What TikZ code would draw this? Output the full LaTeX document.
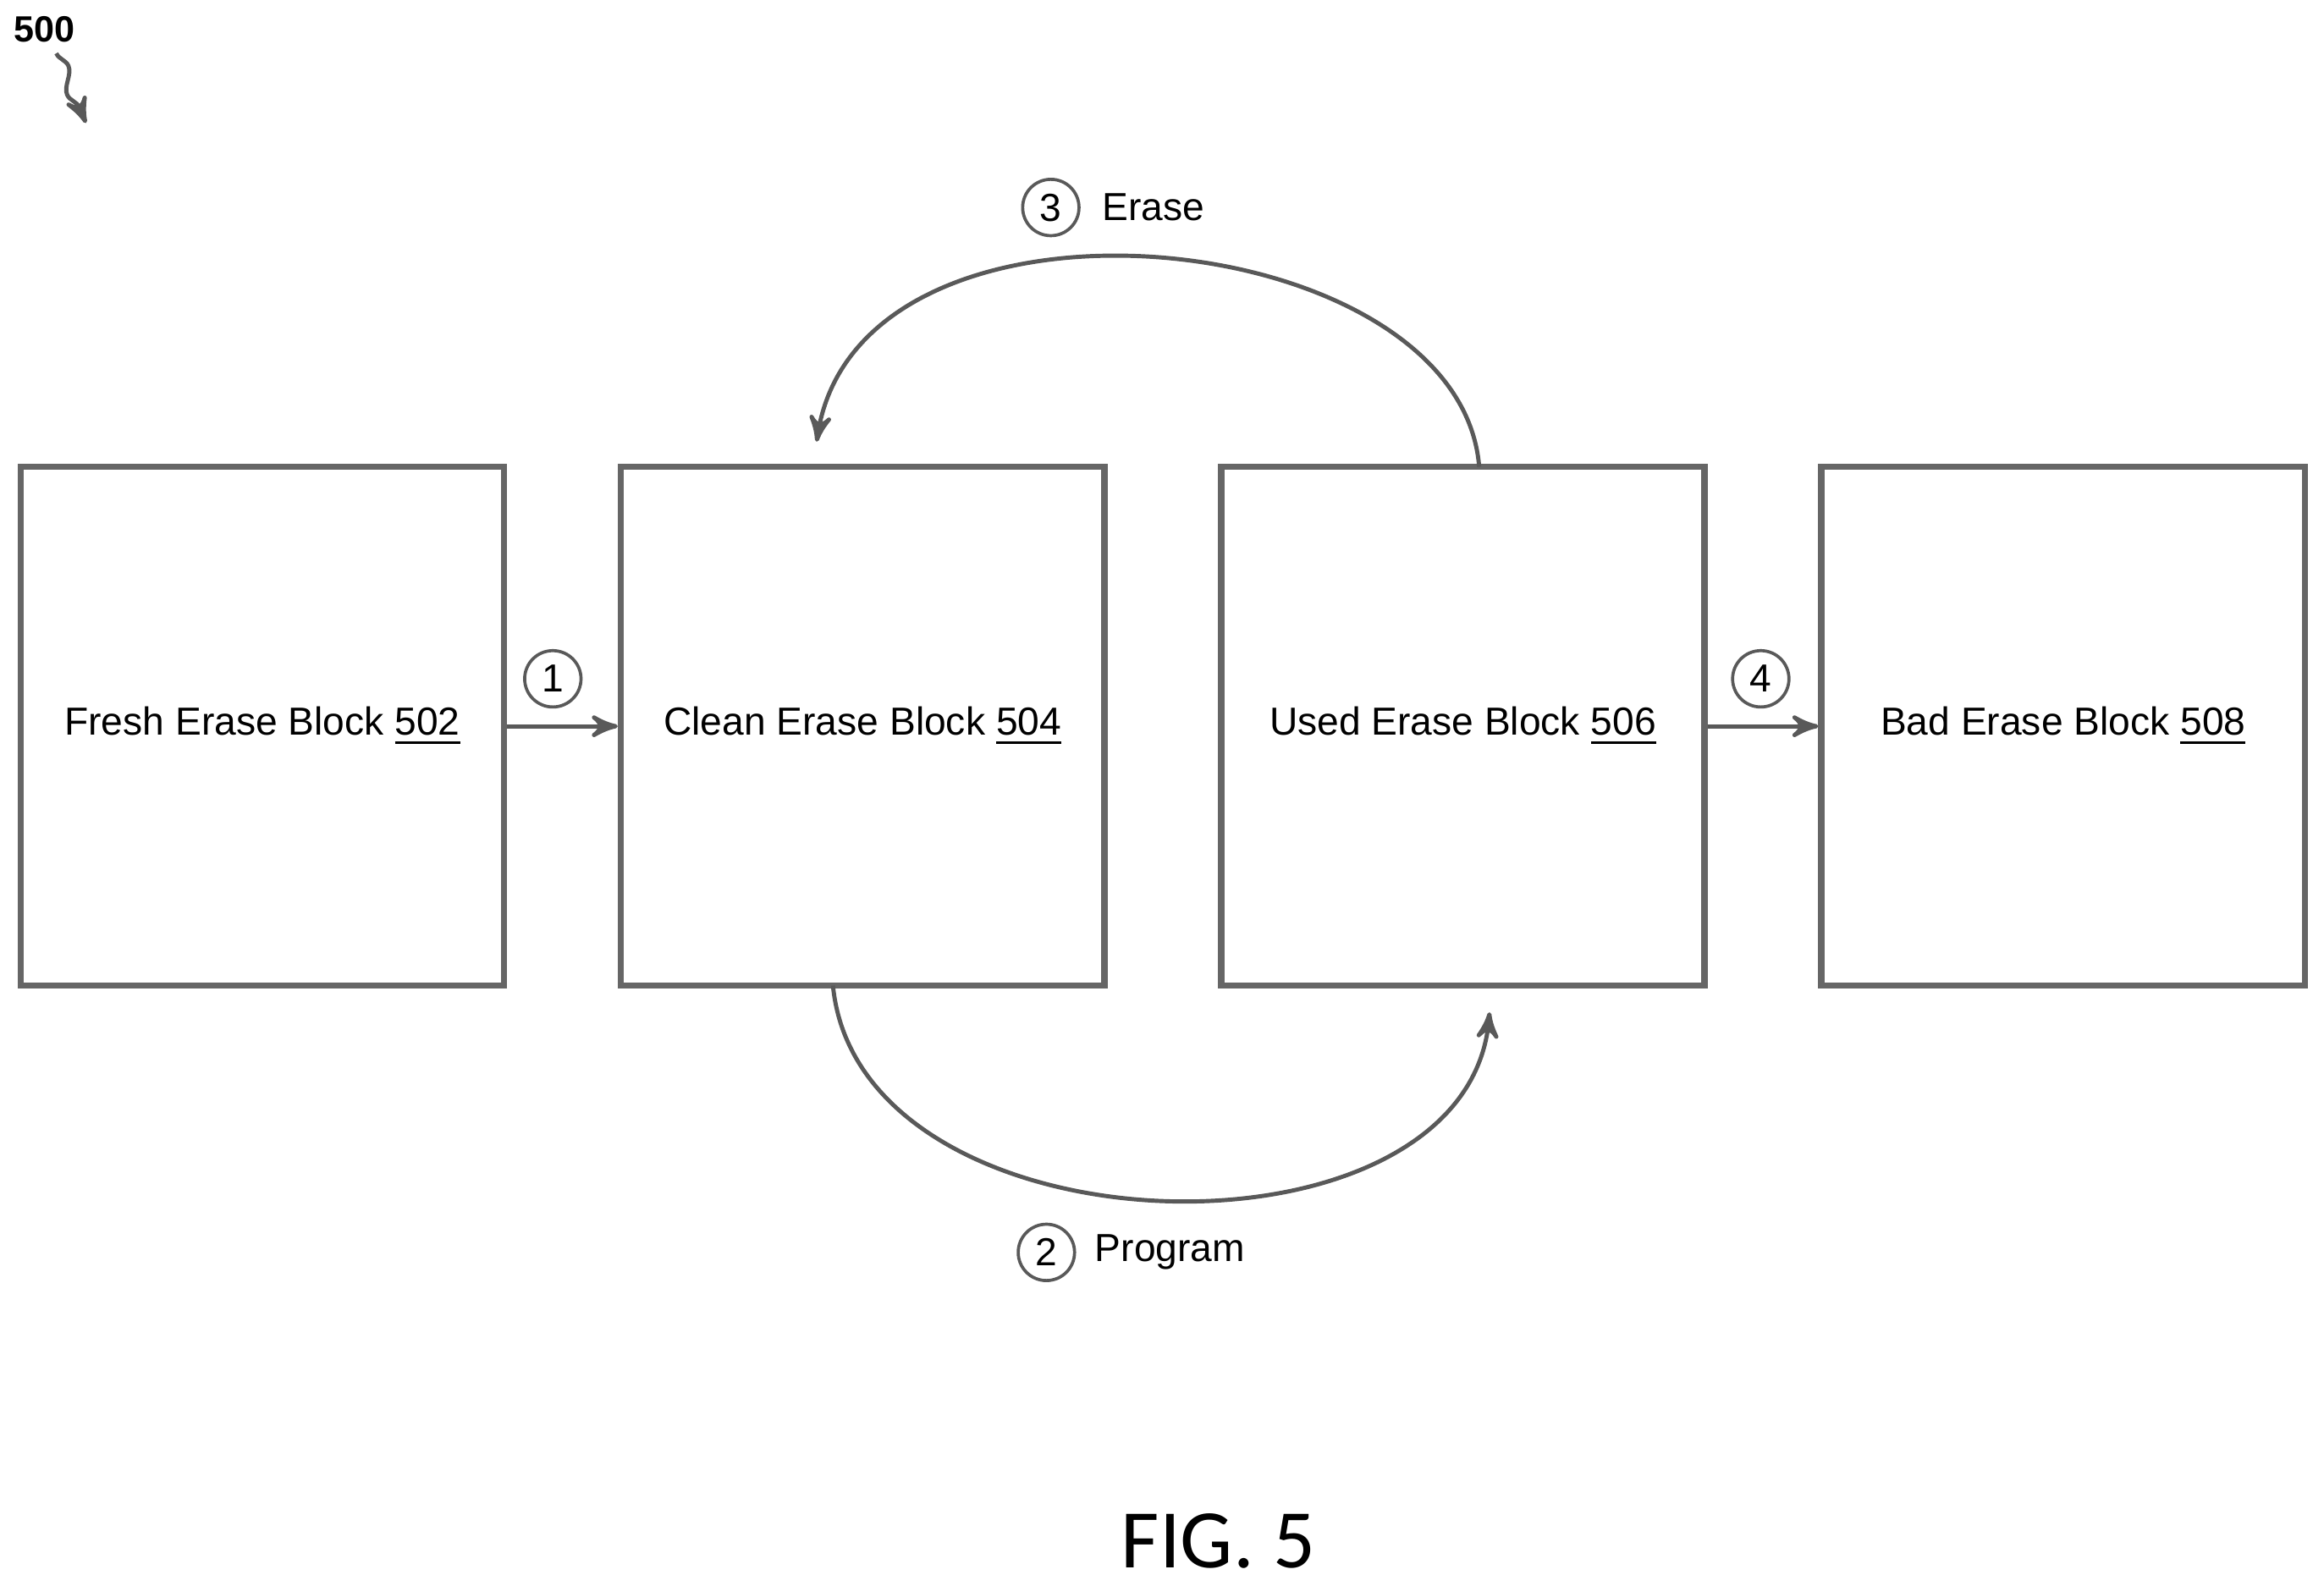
\documentclass[tikz,border=0pt]{standalone}
\usepackage{fontspec}
\setmainfont{Liberation Sans}
\newfontfamily\figfont{Carlito}
\usetikzlibrary{arrows,positioning,decorations.pathmorphing}
\begin{document}
\begin{tikzpicture}[x=0.01cm,y=-0.01cm,>=stealth',semithick,
                    block/.style={draw=gray!80!black,very thick,minimum width=3.26cm,minimum height=3.5cm,font=\fontsize{7.5}{9}\selectfont},
                    stepno/.style={draw=gray!70!black,circle,inner sep=0pt,minimum size=0.38cm,font=\fontsize{7.5}{9}\selectfont},
                    flow/.style={->,draw=gray!70!black,thick}]
  \useasboundingbox (0,0) rectangle (1568,1070);

  \node[block] (fresh) at (177,490) {Fresh Erase Block \underline{502}};
  \node[block] (clean) at (582,490) {Clean Erase Block \underline{504}};
  \node[block] (used)  at (987,490) {Used Erase Block \underline{506}};
  \node[block] (bad)   at (1392,490) {Bad Erase Block \underline{508}};

  \node[stepno] (s1) at (373,458) {1};
  \node[stepno] (s4) at (1188,458) {4};
  \node[stepno] (s3) at (709,140) {3};
  \node[right=0.02cm of s3,font=\fontsize{7.5}{9}\selectfont] (erase) {Erase};
  \node[stepno] (s2) at (706,845) {2};
  \node[right=0cm of s2,font=\fontsize{7.5}{9}\selectfont] (program) {Program};

  \coordinate (eraseout) at (998,315);
  \coordinate (erasein)  at (551,298);
  \coordinate (progout)  at (562,665);
  \coordinate (progin)   at (1005,683);

  \draw[flow] (fresh.east) -- (clean.west);
  \draw[flow] (used.east) -- (bad.west);
  \draw[flow] (eraseout) .. controls (985,150) and (580,110) .. (erasein);
  \draw[flow] (progout) .. controls (580,850) and (990,860) .. (progin);

  \node[font=\bfseries\fontsize{7}{8}\selectfont] (fignum) at (30,20) {500};
  \coordinate (fignumend) at (58,83);
  \draw[->,gray!70!black,thick,decorate,decoration={snake,amplitude=1.2pt,segment length=10pt,post length=3pt}] (38,36) -- (fignumend);

  \node[font=\figfont\fontsize{16}{18}\selectfont] (caption) at (822,1040) {FIG. 5};
\end{tikzpicture}
\end{document}
